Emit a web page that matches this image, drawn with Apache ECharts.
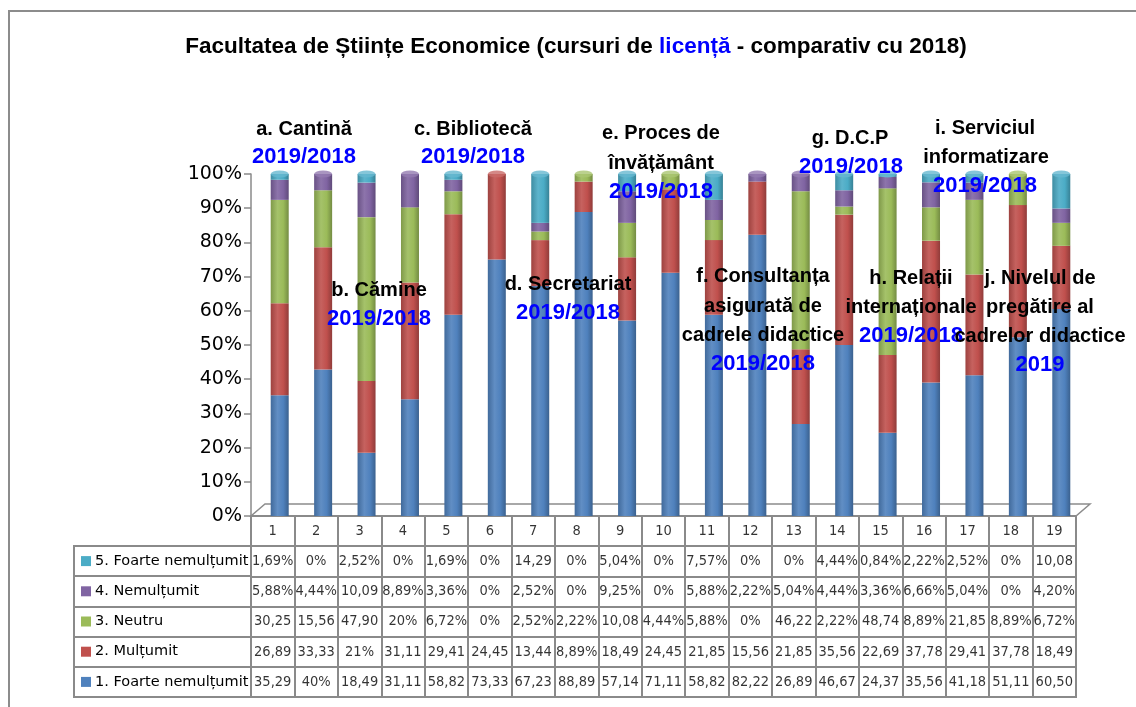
<!DOCTYPE html>
<html>
<head>
<meta charset="utf-8">
<script src="https://cdn.jsdelivr.net/npm/echarts@6/dist/echarts.min.js"></script>
<style>
html, body { margin: 0; background: #fff; }
#chart { width: 1136px; height: 707px; }
</style>
</head>
<body>
<div id="chart"></div>
<script>
const categories = ['1', '2', '3', '4', '5', '6', '7', '8', '9', '10', '11', '12', '13', '14', '15', '16', '17', '18', '19']
const seriesNames = ['1. Foarte nemulțumit', '2. Mulțumit', '3. Neutru', '4. Nemulțumit', '5. Foarte nemulțumit']
const s1 = [35.29, 40, 18.49, 31.11, 58.82, 73.33, 67.23, 88.89, 57.14, 71.11, 58.82, 82.22, 26.89, 46.67, 24.37, 35.56, 41.18, 51.11, 60.50]
const s2 = [26.89, 33.33, 21, 31.11, 29.41, 24.45, 13.44, 8.89, 18.49, 24.45, 21.85, 15.56, 21.85, 35.56, 22.69, 37.78, 29.41, 37.78, 18.49]
const s3 = [30.25, 15.56, 47.90, 20, 6.72, 0, 2.52, 2.22, 10.08, 4.44, 5.88, 0, 46.22, 2.22, 48.74, 8.89, 21.85, 8.89, 6.72]
const s4 = [5.88, 4.44, 10.09, 8.89, 3.36, 0, 2.52, 0, 9.25, 0, 5.88, 2.22, 5.04, 4.44, 3.36, 6.66, 5.04, 0, 4.20]
const s5 = [1.69, 0, 2.52, 0, 1.69, 0, 14.29, 0, 5.04, 0, 7.57, 0, 0, 4.44, 0.84, 2.22, 2.52, 0, 10.08]
const colors = ['#4F81BD', '#C0504D', '#9BBB59', '#8064A2', '#4BACC6']

// text boxes laid over the chart
const notes = [
    { x: 304, y: 129, text: 'a. Cantină' }, { x: 304, y: 157, text: '2019/2018', blue: true },
    { x: 473, y: 129, text: 'c. Bibliotecă' }, { x: 473, y: 157, text: '2019/2018', blue: true },
    { x: 379, y: 290, text: 'b. Cămine' }, { x: 379, y: 319, text: '2019/2018', blue: true },
    { x: 568, y: 284, text: 'd. Secretariat' }, { x: 568, y: 313, text: '2019/2018', blue: true },
    { x: 661, y: 133, text: 'e. Proces de' }, { x: 661, y: 163, text: 'învățământ' }, { x: 661, y: 192, text: '2019/2018', blue: true },
    { x: 763, y: 276, text: 'f. Consultanța' }, { x: 763, y: 306, text: 'asigurată de' }, { x: 763, y: 335, text: 'cadrele didactice' }, { x: 763, y: 364, text: '2019/2018', blue: true },
    { x: 850, y: 138, text: 'g. D.C.P' }, { x: 851, y: 167, text: '2019/2018', blue: true },
    { x: 911, y: 278, text: 'h. Relații' }, { x: 911, y: 307, text: 'internaționale' }, { x: 911, y: 336, text: '2019/2018', blue: true },
    { x: 985, y: 128, text: 'i. Serviciul' }, { x: 986, y: 157, text: 'informatizare' }, { x: 985, y: 186, text: '2019/2018', blue: true },
    { x: 1040, y: 278, text: 'j. Nivelul de' }, { x: 1040, y: 307, text: 'pregătire al' }, { x: 1040, y: 336, text: 'cadrelor didactice' }, { x: 1040, y: 365, text: '2019', blue: true },
]

const raw = [s1, s2, s3, s4, s5]
const totals = categories.map((c, i) => raw.reduce((a, s) => a + s[i], 0))

function shade(hex, k) {
    const n = parseInt(hex.slice(1), 16)
    const ch = [(n >> 16) & 255, (n >> 8) & 255, n & 255].map(v => {
        const t = k > 0 ? v + (255 - v) * k : v * (1 + k)
        return Math.round(t)
    })
    return 'rgb(' + ch.join(',') + ')'
}
function cyl(c) {
    return new echarts.graphic.LinearGradient(0, 0, 1, 0, [
        { offset: 0, color: shade(c, -0.18) },
        { offset: 0.38, color: shade(c, 0.1) },
        { offset: 0.7, color: c },
        { offset: 1, color: shade(c, -0.25) },
    ])
}

function cellText(v) {
    if (Number.isInteger(v)) return v + '%'
    const s = v.toFixed(2).replace('.', ',')
    return v < 10 ? s + '%' : s
}

const barSeries = raw.map((s, k) => ({
    name: seriesNames[k],
    type: 'bar',
    stack: 'total',
    barWidth: 18,
    xAxisIndex: 0,
    yAxisIndex: 0,
    itemStyle: { color: cyl(colors[k]) },
    data: s.map((v, i) => v / totals[i] * 100),
}))

// cylinder caps take the colour of the top segment
const caps = categories.map((c, i) => {
    let top = 0
    raw.forEach((s, k) => { if (s[i] > 0) top = k })
    return { value: [i, 100], itemStyle: { color: shade(colors[top], 0.15) } }
})

const cells = []
raw.forEach((s, k) => s.forEach((v, i) => cells.push([i, k, cellText(v)])))
categories.forEach((c, i) => cells.push([i, 5, c]))

const lineGray = '#8a8a8a'
const rich = {}
colors.forEach((c, k) => { rich['m' + k] = { width: 10, height: 10, backgroundColor: c } })
rich.t = { fontSize: 14.5, color: '#000', fontFamily: 'DejaVu Sans', padding: [0, 0, 0, 4] }

const option = {
    animation: false,
    grid: [
        { left: 258, top: 174, width: 825, height: 342 },
        { left: 251, top: 516, width: 825, height: 181, show: true, borderColor: lineGray, borderWidth: 2 },
        { left: 74, top: 546, width: 177, height: 151, show: true, borderColor: lineGray, borderWidth: 2 },
    ],
    xAxis: [
        { gridIndex: 0, type: 'category', data: categories, axisLabel: { show: false }, axisLine: { show: false }, axisTick: { show: false } },
        {
            gridIndex: 1, type: 'category', data: categories,
            axisLabel: { show: false }, axisLine: { show: false }, axisTick: { show: false },
            splitLine: { show: true, interval: 0, lineStyle: { color: lineGray, width: 2 } },
        },
        { gridIndex: 2, type: 'value', show: false },
    ],
    yAxis: [
        {
            gridIndex: 0, type: 'value', min: 0, max: 100, interval: 10, offset: 7,
            axisLine: { show: true, lineStyle: { color: lineGray, width: 1.5 } },
            axisTick: { show: true, length: 7, lineStyle: { color: lineGray, width: 1.5 } },
            splitLine: { show: false },
            axisLabel: { formatter: '{value}%', fontSize: 19, color: '#000', fontFamily: 'DejaVu Sans', margin: 9 },
        },
        {
            gridIndex: 1, type: 'category', data: seriesNames.concat(['']),
            axisLabel: { show: false }, axisLine: { show: false }, axisTick: { show: false },
            splitLine: { show: true, interval: 0, lineStyle: { color: lineGray, width: 2 } },
        },
        {
            gridIndex: 2, type: 'category', data: seriesNames,
            axisLine: { show: false }, axisTick: { show: false },
            splitLine: { show: true, interval: 0, lineStyle: { color: lineGray, width: 2 } },
            axisLabel: {
                inside: true, margin: 7, rich,
                formatter: (v, i) => '{m' + i + '|}{t|' + v + '}',
            },
        },
    ],
    series: barSeries.concat([
        {
            type: 'scatter', xAxisIndex: 0, yAxisIndex: 0, symbol: 'circle', symbolSize: [18, 7],
            z: 3, data: caps,
        },
        {
            type: 'scatter', xAxisIndex: 1, yAxisIndex: 1, symbolSize: 0, data: cells,
            label: {
                show: true, position: 'inside', formatter: p => p.value[2],
                fontSize: 14.5, color: '#000', fontFamily: 'DejaVu Sans Condensed, DejaVu Sans',
            },
        },
    ]),
    graphic: [
        { type: 'rect', shape: { x: 9, y: 11, width: 1300, height: 900 }, style: { fill: 'none', stroke: '#8c8c8c', lineWidth: 2 }, silent: true },
        { type: 'polygon', shape: { points: [[251, 516], [1076, 516], [1090, 504], [265, 504]] }, style: { fill: 'none', stroke: '#8c8c8c', lineWidth: 1.5 }, silent: true },
        {
            type: 'text', x: 576, y: 47, z: 10,
            style: {
                text: '{a|Facultatea de Științe Economice (cursuri de }{b|licență}{a| - comparativ cu 2018)}',
                align: 'center', verticalAlign: 'middle',
                rich: {
                    a: { fontSize: 22.5, fontWeight: 'bold', fontFamily: 'Liberation Sans', fill: '#000' },
                    b: { fontSize: 22.5, fontWeight: 'bold', fontFamily: 'Liberation Sans', fill: '#0000FF' },
                },
            },
        },
    ].concat(notes.map(n => ({
        type: 'text', x: n.x, y: n.y, z: 10,
        style: {
            text: n.text, align: 'center', verticalAlign: 'middle',
            fontSize: n.blue ? 22 : 20, fontWeight: 'bold', fontFamily: 'Liberation Sans',
            fill: n.blue ? '#0000FF' : '#000',
        },
    }))),
}

const myChart = echarts.init(document.getElementById('chart'))
myChart.setOption(option)
</script>
</body>
</html>
